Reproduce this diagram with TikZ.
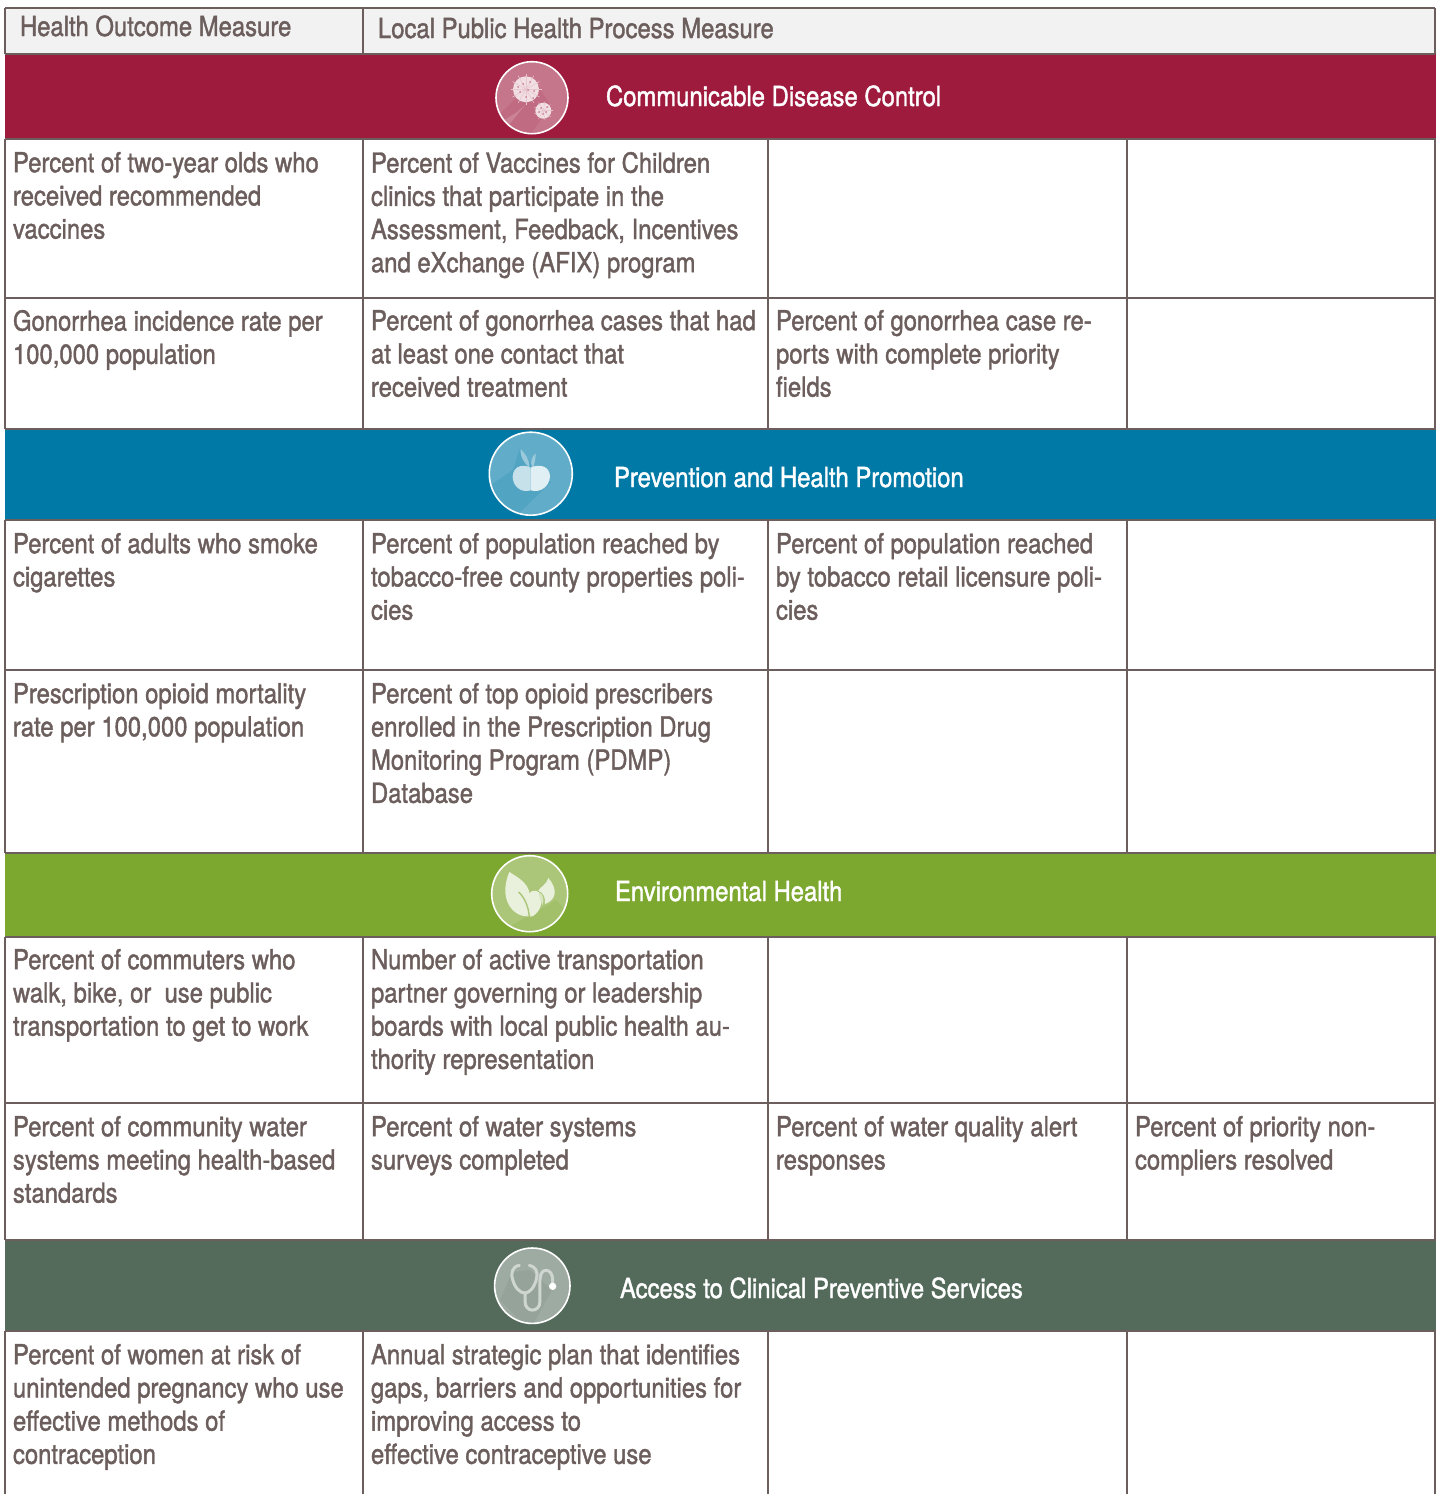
\documentclass[tikz,border=0pt]{standalone}
\usepackage{fontspec}
\setmainfont[FakeStretch=0.864,FakeBold=1.4]{TeX Gyre Heros}
\definecolor{rulec}{HTML}{6B5E5C}
\definecolor{headbg}{HTML}{F2F2F2}
\definecolor{crim}{HTML}{9E1B3E}
\definecolor{blu}{HTML}{0079A6}
\definecolor{grn}{HTML}{7DA82F}
\definecolor{dgrn}{HTML}{546B5C}
\tikzset{
  celltext/.style={anchor=north west,inner sep=0pt,outer sep=0pt,align=left,text=rulec,
    font=\fontsize{27.6}{33.2}\selectfont,execute at begin node={\rule{0pt}{22pt}}},
  headtext/.style={celltext},
  bartext/.style={celltext,text=white},
  grid/.style={draw=rulec,line width=2pt},
  ring/.style={draw=white,line width=1.6pt},
}
\begin{document}
\begin{tikzpicture}[x=1pt,y=-1pt]
\useasboundingbox (0,0) rectangle (1440,1494);
\fill[white] (0,0) rectangle (1440,1494);
% header + bands
\fill[headbg] (5,8) rectangle (1435,54);
\fill[crim] (5,54) rectangle (1436,139);
\fill[blu] (5,429) rectangle (1436,520);
\fill[grn] (5,853) rectangle (1436,937);
\fill[dgrn] (5,1240) rectangle (1436,1331);
% grid
\draw[grid] (5,8) -- (1435,8);
\draw[grid] (5,54) -- (1435,54);
\foreach \y in {139,298,429,520,670,853,937,1103,1240,1331}{\draw[grid] (5,\y) -- (1436,\y);}
\draw[grid] (5,8) -- (5,54) (5,139) -- (5,429) (5,520) -- (5,853) (5,937) -- (5,1240) (5,1331) -- (5,1494);
\draw[grid] (363,8) -- (363,54) (363,139) -- (363,429) (363,520) -- (363,853) (363,937) -- (363,1240) (363,1331) -- (363,1494);
\draw[grid] (1435,8) -- (1435,54) (1435,139) -- (1435,429) (1435,520) -- (1435,853) (1435,937) -- (1435,1240) (1435,1331) -- (1435,1494);
\draw[grid] (768,139) -- (768,429) (768,520) -- (768,853) (768,937) -- (768,1240) (768,1331) -- (768,1494);
\draw[grid] (1127,139) -- (1127,429) (1127,520) -- (1127,853) (1127,937) -- (1127,1240) (1127,1331) -- (1127,1494);
% icon 1
\begin{scope}
\fill[crim!60!white] (532,97.7) circle (36pt);
\clip (532,97.7) circle (36pt);
\fill[crim!65!white] (516,98) -- (537,84) -- (551,106) -- (526,140) -- (498,116) -- cycle;
\fill[crim!55!white] (517,112) -- (526,104) -- (504,131) -- (498,124) -- cycle;
\end{scope}
\draw[ring] (532,97.7) circle (36pt);
\fill[crim!14!white] (526,89.3) circle (13pt);
\foreach \a in {0,30,...,330}{\draw[crim!25!white,line width=.6pt] (526,89.3) -- ++(\a:15.5);}
\fill[crim!14!white] (543.3,110.7) circle (8pt);
\foreach \a in {0,40,...,320}{\draw[crim!25!white,line width=.5pt] (543.3,110.7) -- ++(\a:9.5);}
\foreach \p in {(523,84),(530,82),(520,92),(528,90),(534,91),(526,97),(533,98),(518,87),(541,108),(546,112),(543,114),(547,107),(539,112)}{\fill[crim!55!white] \p circle (1pt);}
% icon 2
\begin{scope}
\fill[blu!62!white] (530.8,473.7) circle (41.5pt);
\clip (530.8,473.7) circle (41.5pt);
\fill[blu!68!white] (513,470) -- (520,448) -- (535,470) -- (551,482) -- (510,522) -- (480,492) -- cycle;
\end{scope}
\draw[ring] (530.8,473.7) circle (41.5pt);
\begin{scope}[shift={(470,425)},x=0.3333pt,y=-0.3333pt]
\fill[blu!40!white] (178,128) .. controls (165,115) and (150,100) .. (152,72) .. controls (165,85) and (180,105) .. cycle;
\fill[blu!40!white] (186,128) .. controls (180,110) and (185,95) .. (197,85) .. controls (198,100) and (192,118) .. (191,128) -- cycle;
\fill[blu!22!white] (182,128) .. controls (165,118) and (130,118) .. (128,155) .. controls (128,185) and (155,205) .. (182,196) -- cycle;
\fill[blu!12!white] (182,128) .. controls (200,118) and (240,118) .. (240,155) .. controls (238,185) and (210,205) .. (182,196) -- cycle;
\end{scope}
% icon 3
\begin{scope}
\fill[grn!65!white] (529.7,893.7) circle (38pt);
\clip (529.7,893.7) circle (38pt);
\fill[grn!72!white] (548,905) -- (556,900) -- (570,915) -- (530,940) -- (512,925) -- cycle;
\end{scope}
\draw[ring] (529.7,893.7) circle (38pt);
\begin{scope}[shift={(470,848)},x=0.3333pt,y=-0.3333pt]
% large leaf
\fill[grn!17!white] (118,72) .. controls (150,92) and (185,110) .. (180,160)
  .. controls (178,175) and (175,190) .. (172,205)
  .. controls (125,205) and (85,150) .. (118,72) -- cycle;
% lower lobe
\fill[grn!17!white] (170,150) .. controls (178,125) and (195,125) .. (206,132)
  .. controls (216,150) and (222,180) .. (190,204) .. controls (185,206) and (178,206) .. (172,205) -- cycle;
% vein between the two
\draw[grn!65!white,line width=1.4pt] (146,132) .. controls (165,150) and (176,178) .. (178,207);
% small leaf
\fill[grn!30!white] (206,132) .. controls (222,140) and (222,155) .. (218,172) .. controls (212,160) and (208,148) .. (206,132) -- cycle;
\fill[grn!17!white] (235,90) .. controls (262,120) and (262,155) .. (225,168) .. controls (226,150) and (222,135) .. (205,128) .. controls (212,115) and (230,110) .. (235,90) -- cycle;
\end{scope}
% icon 4
\begin{scope}
\fill[dgrn!57!white] (532.3,1285.7) circle (37.7pt);
\clip (532.3,1285.7) circle (37.7pt);
\fill[dgrn!62!white] (512,1272) -- (530,1270) -- (552,1290) -- (530,1330) -- (500,1300) -- cycle;
\end{scope}
\draw[ring] (532.3,1285.7) circle (37.7pt);
\begin{scope}[shift={(470,1238)},x=0.3333pt,y=-0.3333pt]
\draw[dgrn!28!white,line width=3pt,line cap=round]
  (148,82) .. controls (125,85) and (122,110) .. (128,125) .. controls (135,150) and (150,165) .. (165,165)
  .. controls (180,165) and (195,145) .. (200,120) .. controls (205,100) and (195,85) .. (178,82);
\draw[dgrn!28!white,line width=3pt] (165,165) -- (165,190) .. controls (165,225) and (210,225) .. (210,190)
  -- (210,125) .. controls (210,85) and (248,90) .. (248,125) -- (248,145);
\fill[white] (248,145) circle (11);
\end{scope}
% headers
\node[headtext] (h1) at (20,14) {Health Outcome Measure};
\node[headtext] (h2) at (378,16) {Local Public Health Process Measure};
% bands
\node[bartext] (b1) at (606,84) {Communicable Disease Control};
\node[bartext] (b2) at (614,465) {Prevention and Health Promotion};
\node[bartext] (b3) at (615,879) {Environmental Health};
\node[bartext] (b4) at (620,1276) {Access to Clinical Preventive Services};
% cells
\node[celltext] (c11) at (13,152) {Percent of two-year olds who\\received recommended\\vaccines};
\node[celltext] (c12) at (371,152) {Percent of Vaccines for Children\\clinics that participate in the\\Assessment, Feedback, Incentives\\and eXchange (AFIX) program};
\node[celltext] (c21) at (13,310) {Gonorrhea incidence rate per\\100,000 population};
\node[celltext] (c22) at (371,310) {Percent of gonorrhea cases that had\\at least one contact that\\received treatment};
\node[celltext] (c23) at (776,310) {Percent of gonorrhea case re-\\ports with complete priority\\fields};
\node[celltext] (c31) at (13,533) {Percent of adults who smoke\\cigarettes};
\node[celltext] (c32) at (371,533) {Percent of population reached by\\tobacco-free county properties poli-\\cies};
\node[celltext] (c33) at (776,533) {Percent of population reached\\by tobacco retail licensure poli-\\cies};
\node[celltext] (c41) at (13,683) {Prescription opioid mortality\\rate per 100,000 population};
\node[celltext] (c42) at (371,683) {Percent of top opioid prescribers\\enrolled in the Prescription Drug\\Monitoring Program (PDMP)\\Database};
\node[celltext] (c51) at (13,949) {Percent of commuters who\\walk, bike, or\ \ use public\\transportation to get to work};
\node[celltext] (c52) at (371,949) {Number of active transportation\\partner governing or leadership\\boards with local public health au-\\thority representation};
\node[celltext] (c61) at (13,1116) {Percent of community water\\systems meeting health-based\\standards};
\node[celltext] (c62) at (371,1116) {Percent of water systems\\surveys completed};
\node[celltext] (c63) at (776,1116) {Percent of water quality alert\\responses};
\node[celltext] (c64) at (1135,1116) {Percent of priority non-\\compliers resolved};
\node[celltext] (c71) at (13,1344) {Percent of women at risk of\\unintended pregnancy who use\\effective methods of\\contraception};
\node[celltext] (c72) at (371,1344) {Annual strategic plan that identifies\\gaps, barriers and opportunities for\\improving access to\\effective contraceptive use};
\end{tikzpicture}
\end{document}
